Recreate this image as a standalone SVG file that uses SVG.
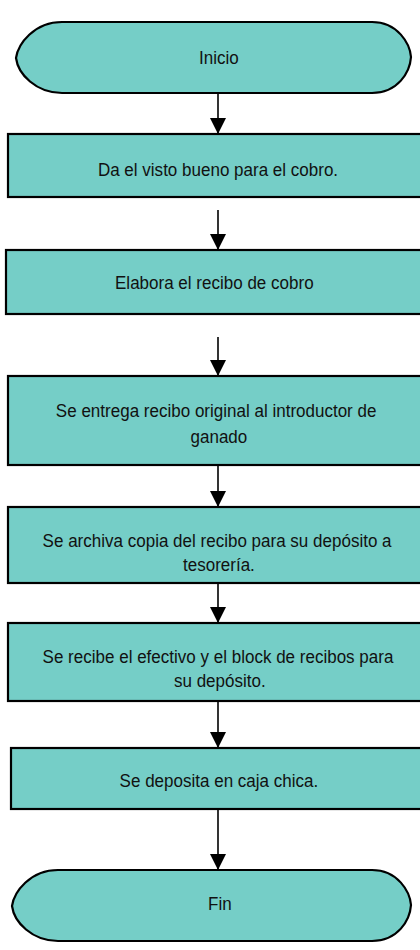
<svg xmlns="http://www.w3.org/2000/svg" width="420" height="950" viewBox="0 0 420 950">
<defs>
<style>
.node{fill:#75CEC7;stroke:#000;stroke-width:2.2}
.t{font-family:"Liberation Sans",Arial,sans-serif;font-size:18.5px;fill:#111;text-anchor:middle}
.c{stroke:#000;stroke-width:1.6;fill:none}
</style>
<marker id="ah" viewBox="0 0 10 10" refX="10" refY="5" markerWidth="16" markerHeight="16" markerUnits="userSpaceOnUse" orient="auto">
<path d="M0,0 L10,5 L0,10 Z" fill="#000"/>
</marker>
</defs>
<rect width="420" height="950" fill="#fff"/>
<g id="inicio">
<path class="node" d="M62,22 H372 C398,22 410,44 411,57 C410,72 398,93 372,93 H62 C36,93 18,74 16,58 C18,44 34,22 62,22 Z"/>
<text class="t" x="219" y="64" transform="matrix(0.92,0,0,1,17.44,0)">Inicio</text>
</g>
<g id="n1">
<rect class="node" x="8" y="134" width="425" height="63"/>
<text class="t" x="218" y="176" transform="matrix(0.92,0,0,1,17.44,0)">Da el visto bueno para el cobro.</text>
</g>
<g id="n2">
<rect class="node" x="6" y="250" width="427" height="64"/>
<text class="t" x="214" y="289" transform="matrix(0.92,0,0,1,17.44,0)">Elabora el recibo de cobro</text>
</g>
<g id="n3">
<rect class="node" x="8" y="376" width="425" height="89"/>
<text class="t" x="216" y="417" transform="matrix(0.92,0,0,1,17.44,0)">Se entrega recibo original al introductor de</text>
<text class="t" x="219" y="443" transform="matrix(0.92,0,0,1,17.44,0)">ganado</text>
</g>
<g id="n4">
<rect class="node" x="8" y="507" width="425" height="76"/>
<text class="t" x="217" y="547" transform="matrix(0.92,0,0,1,17.44,0)">Se archiva copia del recibo para su depósito a</text>
<text class="t" x="219" y="571" transform="matrix(0.92,0,0,1,17.44,0)">tesorería.</text>
</g>
<g id="n5">
<rect class="node" x="8" y="623" width="425" height="78"/>
<text class="t" x="218" y="663" transform="matrix(0.92,0,0,1,17.44,0)">Se recibe el efectivo y el block de recibos para</text>
<text class="t" x="220" y="687" transform="matrix(0.92,0,0,1,17.44,0)">su depósito.</text>
</g>
<g id="n6">
<rect class="node" x="11" y="748" width="422" height="61"/>
<text class="t" x="219" y="787" transform="matrix(0.92,0,0,1,17.44,0)">Se deposita en caja chica.</text>
</g>
<g id="fin">
<path class="node" d="M58,870 H372 C398,870 410,892 411,905 C410,920 398,941 372,941 H58 C32,941 14,922 12,906 C14,892 30,870 58,870 Z"/>
<text class="t" x="220" y="910" transform="matrix(0.92,0,0,1,17.44,0)">Fin</text>
</g>
<g id="connectors">
<line class="c" x1="218" y1="93" x2="218" y2="134" marker-end="url(#ah)"/>
<line class="c" x1="218" y1="210" x2="218" y2="250" marker-end="url(#ah)"/>
<line class="c" x1="218" y1="337" x2="218" y2="376" marker-end="url(#ah)"/>
<line class="c" x1="218" y1="465" x2="218" y2="507" marker-end="url(#ah)"/>
<line class="c" x1="218" y1="583" x2="218" y2="623" marker-end="url(#ah)"/>
<line class="c" x1="218" y1="701" x2="218" y2="748" marker-end="url(#ah)"/>
<line class="c" x1="218" y1="809" x2="218" y2="870" marker-end="url(#ah)"/>
</g>
</svg>
